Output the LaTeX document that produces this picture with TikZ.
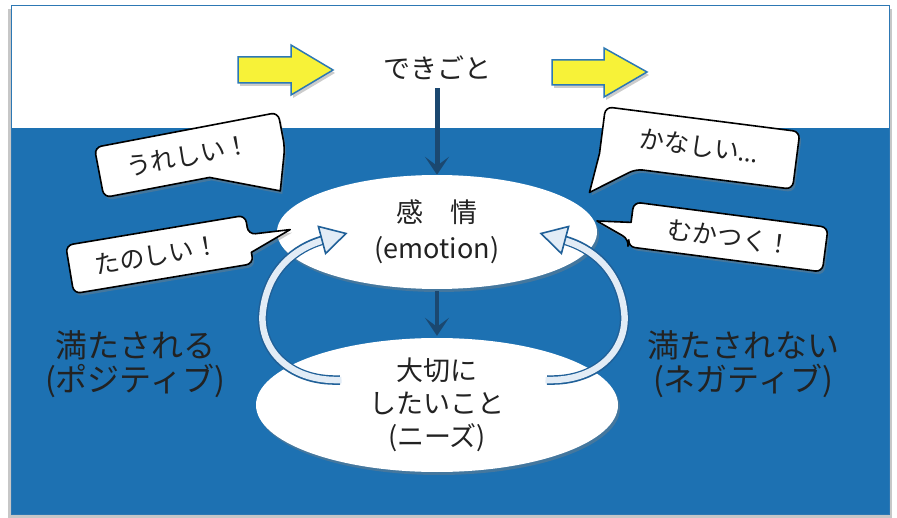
\documentclass[tikz,border=0pt]{standalone}
\usepackage{fontspec}
\setmainfont{Noto Sans CJK JP}
\newfontfamily\latinfont{Noto Sans}
\usetikzlibrary{shapes.geometric,shadows,arrows.meta}
\definecolor{seablue}{RGB}{29,113,178}
\definecolor{deepblue}{RGB}{27,72,112}
\definecolor{arrowyellow}{RGB}{247,242,56}
\definecolor{edgeblue}{RGB}{45,120,180}
\definecolor{ribbonfill}{RGB}{226,236,246}
\definecolor{ribbonedge}{RGB}{32,96,152}
\definecolor{ink}{RGB}{34,34,34}
\tikzset{
  softshadow/.style={drop shadow={opacity=0.4, shadow xshift=2pt, shadow yshift=-3pt}},
  bubble/.style={fill=white, draw=black, line width=1.6pt, line join=round, softshadow},
  bubbletext/.style={text=ink, font=\fontsize{25pt}{28pt}\selectfont, inner sep=0pt},
  blob/.style={ellipse, fill=white, draw=none, align=center, text=ink, inner sep=0pt, softshadow},
  downarrow/.style={draw=deepblue, line width=5pt, -{Stealth[length=18pt,width=24pt,inset=9pt]}},
  yellowarrow/.style={fill=arrowyellow, draw=edgeblue, line width=1.5pt, line join=miter, softshadow},
  bigtext/.style={text=ink, align=center, font=\fontsize{32pt}{34pt}\selectfont},
  ribbonout/.style={draw=ribbonedge, line width=9.5pt},
  ribbonin/.style={draw=ribbonfill, line width=6.5pt},
  ribbonhead/.style={fill=ribbonfill, draw=ribbonedge, line width=1.6pt, line join=miter}
}
\begin{document}
\begin{tikzpicture}[x=1pt, y=-1pt]
\useasboundingbox (0,0) rectangle (897,518);
\fill[white] (0,0) rectangle (897,518);
% frame
\fill[black!22] (8,9) rectangle (892,518);
\fill[white] (11,6) rectangle (889,128);
\fill[seablue] (11,128) rectangle (889,514);
\draw[edgeblue, line width=1pt] (11,6) rectangle (889,514);

% yellow arrows
\path[yellowarrow] (238,57) -- (291,57) -- (291,45) -- (333,70) -- (291,95) -- (291,83) -- (238,83) -- cycle;
\path[yellowarrow] (552,60) -- (604,60) -- (604,48) -- (647,72) -- (604,97) -- (604,85) -- (552,85) -- cycle;

% event
\node[text=ink, font=\fontsize{27pt}{30pt}\selectfont, inner sep=0pt] (event) at (437,68) {できごと};

% ellipses
\node[blob, minimum width=320pt, minimum height=114pt, font=\fontsize{27pt}{36pt}\selectfont] (emo) at (437,232) {感　情\\(emotion)};
\node[blob, minimum width=362pt, minimum height=134pt, font=\fontsize{27pt}{33pt}\selectfont] (needs) at (437,405) {大切に\\したいこと\\(ニーズ)};

\draw[downarrow, shorten <=8pt] (event.south) -- (emo.north);
\draw[downarrow, line width=4pt, shorten <=2pt, shorten >=2pt] (emo.south) -- (needs.north);

% speech bubbles
\begin{scope}[shift={(191,155)}, rotate=10.8]
  \path[bubble] (-93.5,0) [rounded corners=7pt] -- (-93.5,-25.5) -- (93.5,-25.5) -- (93.5,10) [sharp corners] -- (81,52) -- (14,25.5) [rounded corners=7pt] -- (-93.5,25.5) -- cycle;
  \node[bubbletext, rotate=10.8] (ureshii) at (-3,0) {うれしい！};
\end{scope}
\begin{scope}[shift={(159.5,254.5)}, rotate=9.5]
  \path[bubble] (-91,0) [rounded corners=7pt] -- (-91,-24.5) -- (91,-24.5) -- (91,-5) [sharp corners] -- (133,-3) -- (91,13) [rounded corners=7pt] -- (91,24.5) -- (-91,24.5) -- cycle;
  \node[bubbletext, rotate=9.5] (tanoshii) at (-3,0) {たのしい！};
\end{scope}
\begin{scope}[shift={(699,148)}, rotate=-7.3]
  \path[bubble] (0,-29) [rounded corners=7pt] -- (98,-29) -- (98,29) -- (-60,29) [sharp corners] -- (-103,58) -- (-98,18) [rounded corners=7pt] -- (-98,-29) -- cycle;
  \node[bubbletext, rotate=-7.3] (kanashii) at (0,-2) {かなしい{\latinfont …}};
\end{scope}
\begin{scope}[shift={(728,237)}, rotate=-7.4]
  \path[bubble] (0,-22.5) [rounded corners=7pt] -- (98,-22.5) -- (98,22.5) -- (-98,22.5) -- (-98,15) [sharp corners] -- (-132,1) -- (-98,-2) [rounded corners=7pt] -- (-98,-22.5) -- cycle;
  \node[bubbletext, rotate=-7.4] (mukatsuku) at (2,0) {むかつく！};
\end{scope}

% ribbons
\draw[ribbonout] (340,380) .. controls (285,382) and (258,345) .. (263,310) .. controls (268,270) and (295,248) .. (323,240);
\draw[ribbonin]  (341.5,380) .. controls (285,382) and (258,345) .. (263,310) .. controls (268,270) and (295,248) .. (324,240);
\path[ribbonhead] (346,233.5) -- (325.6,253.5) -- (318.4,226.5) -- cycle;

\draw[ribbonout] (547,380) .. controls (602,382) and (629,345) .. (624,310) .. controls (619,270) and (592,248) .. (564,240);
\draw[ribbonin]  (545.5,380) .. controls (602,382) and (629,345) .. (624,310) .. controls (619,270) and (592,248) .. (563,240);
\path[ribbonhead] (541,233.5) -- (561.4,253.5) -- (568.6,226.5) -- cycle;

% side labels
\node[bigtext] (positive) at (135,364) {満たされる\\(ポジティブ)};
\node[bigtext] (negative) at (743,364) {満たされない\\(ネガティブ)};
\end{tikzpicture}
\end{document}
